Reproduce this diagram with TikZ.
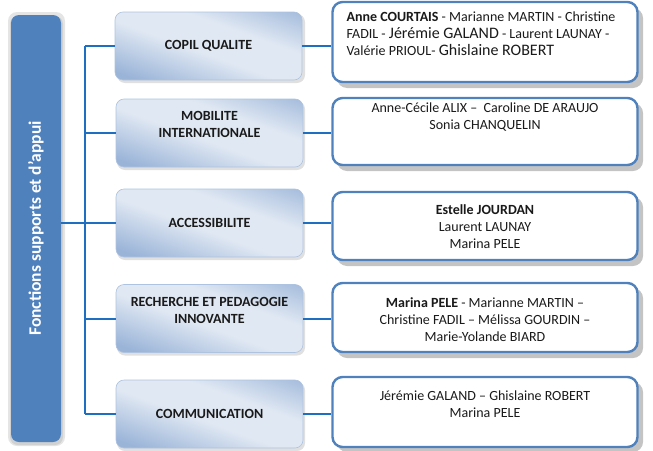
\documentclass[tikz,border=0pt]{standalone}
\usepackage{fontspec}
\setmainfont{Carlito}
\definecolor{barblue}{HTML}{4F81BD}
\definecolor{linkblue}{HTML}{1F6FC0}
\definecolor{boxborder}{HTML}{4F81BD}
\definecolor{gradA}{HTML}{9AB4D8}
\definecolor{gradB}{HTML}{E0E8F3}
\definecolor{shadowgray}{HTML}{C4C4C4}
\definecolor{txt}{HTML}{1A1A1A}
\pgfdeclarehorizontalshading{midshade}{100bp}{color(0bp)=(gradA); color(36bp)=(gradA); color(48bp)=(gradB); color(56bp)=(gradB); color(66bp)=(gradA!85!gradB); color(100bp)=(gradA!85!gradB)}
\tikzset{
  midbox/.style={rounded corners=8pt, minimum width=187pt, minimum height=68pt,
    inner sep=0pt, fill=gradB,
    path picture={\shade[shading=midshade, shading angle=70]
      ([shift={(-100pt,-100pt)}]path picture bounding box.center) rectangle
      ([shift={(100pt,100pt)}]path picture bounding box.center);},
    draw=gradA!80!white, line width=0.6pt, font=\bfseries\fontsize{14}{17}\selectfont,
    text=txt, align=center},
  midshadow/.style={rounded corners=8pt, fill=black!12},
  namebox/.style={rounded corners=10pt, minimum width=305pt, inner sep=0pt,
    draw=boxborder, line width=2.4pt, fill=white},
  nameshadow/.style={rounded corners=10pt, fill=shadowgray},
  names/.style={font=\fontsize{14}{17}\selectfont, text=txt, align=center, anchor=north},
  link/.style={draw=linkblue, line width=2pt},
}
\begin{document}
\begin{tikzpicture}[x=1pt,y=-1pt]
\useasboundingbox (0,0) rectangle (653,450);
% left bar
\fill[black!10, rounded corners=9pt] (8,12) rectangle (65,446);
\fill[black!18, rounded corners=8pt] (10,16) rectangle (63,445);
\node[rounded corners=8pt, fill=barblue, minimum width=50pt, minimum height=427pt, inner sep=0pt] (bar) at (36,228.5) {};
\node[rotate=90, text=white, font=\bfseries\fontsize{17.5}{20}\selectfont] (bartext) at (bar.center) {Fonctions supports et d’appui};
% middle boxes
\foreach \i/\y in {1/46, 2/133, 3/223, 4/318.5, 5/414}{
  \fill[midshadow] (117,\y-32) rectangle (305,\y+37);
}
\node[midbox] (m1) at (208.5,46) {COPIL QUALITE};
\node[midbox] (m2) at (209.5,133) {MOBILITE\\INTERNATIONALE\\\mbox{}};
\node[midbox] (m3) at (209.5,223) {ACCESSIBILITE};
\node[midbox] (m4) at (209.5,318.5) {RECHERCHE ET PEDAGOGIE\\INNOVANTE\\\mbox{}};
\node[midbox] (m5) at (209.5,414) {COMMUNICATION};
% right boxes shadows
\fill[nameshadow] (337,8) rectangle (643,88);
\fill[nameshadow] (337,103) rectangle (643,171);
\fill[nameshadow] (337,197) rectangle (643,266);
\fill[nameshadow] (337,288) rectangle (643,358);
\fill[nameshadow] (337,382) rectangle (643,452);
% right boxes
\node[namebox, minimum height=80pt] (r1) at (485,42) {};
\node[namebox, minimum height=67pt] (r2) at (485,131.5) {};
\node[namebox, minimum height=68pt] (r3) at (485,226) {};
\node[namebox, minimum height=69pt] (r4) at (485,317.5) {};
\node[namebox, minimum height=70pt] (r5) at (485,412) {};
% texts
\node[names, align=left, anchor=north west] (t1) at (343,8) {\textbf{Anne COURTAIS} - Marianne MARTIN - Christine\\FADIL - {\fontsize{16}{17}\selectfont Jérémie GALAND} - Laurent LAUNAY -\\Valérie PRIOUL- {\fontsize{16}{17}\selectfont Ghislaine ROBERT}};
\node[names] (t2) at (485,99) {Anne-Cécile ALIX –\ \ Caroline DE ARAUJO\\Sonia CHANQUELIN};
\node[names] (t3) at (485,201) {\textbf{Estelle JOURDAN}\\Laurent LAUNAY\\Marina PELE};
\node[names] (t4) at (485,294) {\textbf{Marina PELE} - Marianne MARTIN –\\Christine FADIL – Mélissa GOURDIN –\\Marie-Yolande BIARD};
\node[names] (t5) at (485,387) {Jérémie GALAND – Ghislaine ROBERT\\Marina PELE};
% connectors
\coordinate (trunktop) at (85,46);
\coordinate (trunkbot) at (85,414);
\draw[link] (trunktop) -- (trunkbot);
\draw[link] (m1.west) -- (m1.west -| trunktop);
\draw[link] (m2.west) -- (m2.west -| trunktop);
\draw[link] (m3.west) -- (m3.west -| bar.east);
\draw[link] (m4.west) -- (m4.west -| trunktop);
\draw[link] (m5.west) -- (m5.west -| trunktop);
\draw[link] (m1.east) -- (m1.east -| r1.west);
\draw[link] (m2.east) -- (m2.east -| r2.west);
\draw[link] (m3.east) -- (m3.east -| r3.west);
\draw[link] (m4.east) -- (m4.east -| r4.west);
\draw[link] (m5.east) -- (m5.east -| r5.west);
\end{tikzpicture}
\end{document}
